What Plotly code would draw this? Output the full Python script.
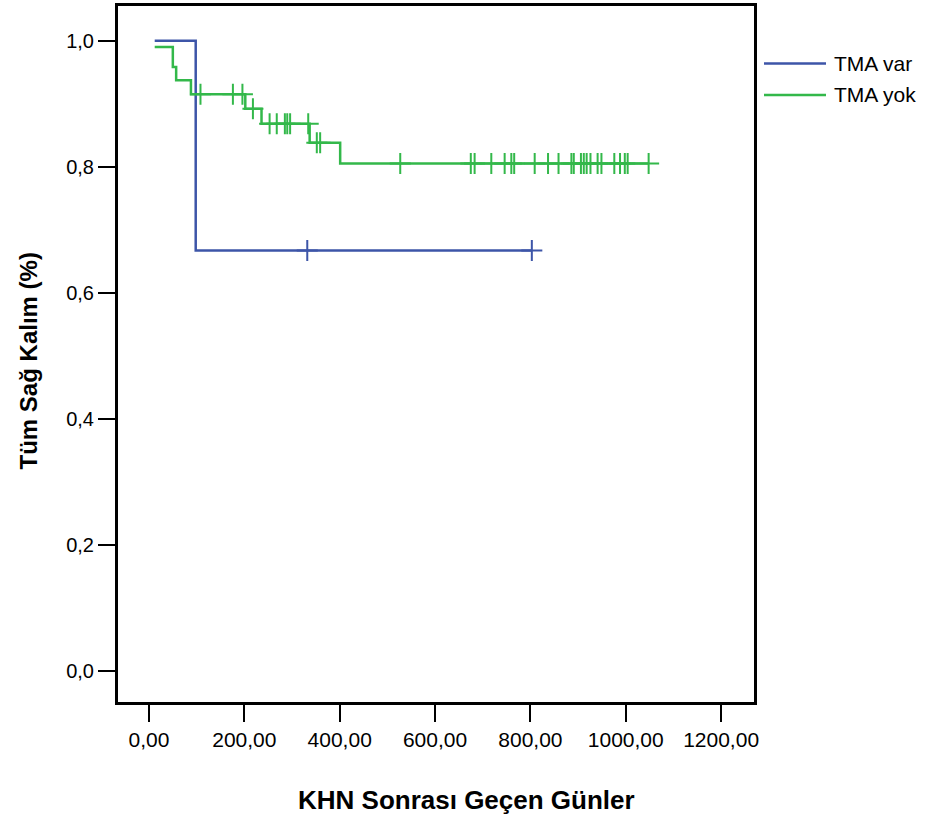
import plotly.graph_objects as go

# ---- data ----
var_name = "TMA var"
var_step_x = [12, 98, 803]
var_step_y = [1.0, 0.667, 0.667]
var_censor_x = [332, 803]

yok_name = "TMA yok"
yok_step_x = [12, 50, 57, 88, 202, 236, 337, 401, 1048]
yok_step_y = [0.990, 0.958, 0.937, 0.915, 0.892, 0.868, 0.838, 0.805, 0.805]
yok_censor_x = [108, 176, 196, 218, 253, 268, 285, 290, 296, 334, 352, 359,
                527, 675, 683, 718, 746, 760, 766, 809, 837, 859, 886, 891,
                906, 912, 918, 926, 941, 949, 976, 988, 998, 1004, 1048]

x_tick_vals = [0, 200, 400, 600, 800, 1000, 1200]
x_tick_labels = ["0,00", "200,00", "400,00", "600,00", "800,00", "1000,00", "1200,00"]
y_tick_vals = [0.0, 0.2, 0.4, 0.6, 0.8, 1.0]
y_tick_labels = ["0,0", "0,2", "0,4", "0,6", "0,8", "1,0"]

x_title = "KHN Sonrası Geçen Günler"
y_title = "Tüm Sağ Kalım (%)"

BLUE = "#3d55a8"
GREEN = "#33b84a"
FONT = "Liberation Sans, Arial, sans-serif"


def surv_at(t, xs, ys):
    val = ys[0]
    for xx, yy in zip(xs, ys):
        if xx <= t:
            val = yy
    return val


fig = go.Figure()
for name, sx, sy, cx, col in [
    (var_name, var_step_x, var_step_y, var_censor_x, BLUE),
    (yok_name, yok_step_x, yok_step_y, yok_censor_x, GREEN),
]:
    fig.add_trace(go.Scatter(x=sx, y=sy, mode="lines", line=dict(color=col, width=2.5, shape="hv"),
                             name=name, showlegend=False, hoverinfo="skip"))
    fig.add_trace(go.Scatter(x=cx, y=[surv_at(t, sx, sy) for t in cx], mode="markers",
                             marker=dict(symbol="cross-thin", size=15, line=dict(color=col, width=2)),
                             name=name + " (sansürlü)", showlegend=False))

# plot area in pixels: x 118..754, y 3..702
L, R, T, B = 118, 754, 3, 702
W, H = 926, 822
pw, ph = R - L, B - T


def px_x(p):
    return (p - L) / pw


def px_y(p):
    return (B - p) / ph


shapes = []
annotations = []
for name, col, ypix in [(var_name, BLUE, 60.7), (yok_name, GREEN, 92.3)]:
    shapes.append(dict(type="line", xref="paper", yref="paper", x0=px_x(764), x1=px_x(826),
                       y0=px_y(ypix), y1=px_y(ypix), line=dict(color=col, width=2.5)))
    annotations.append(dict(xref="paper", yref="paper", x=px_x(832), y=px_y(ypix), text=name,
                            showarrow=False, xanchor="left", yanchor="middle",
                            font=dict(family=FONT, size=21, color="black")))

annotations.append(dict(xref="paper", yref="paper", x=px_x(466), y=px_y(800), text="<b>" + x_title + "</b>",
                        showarrow=False, xanchor="center", yanchor="middle",
                        font=dict(family=FONT, size=26, color="black")))
annotations.append(dict(xref="paper", yref="paper", x=px_x(28), y=px_y(360), text="<b>" + y_title + "</b>",
                        showarrow=False, xanchor="center", yanchor="middle", textangle=-90,
                        font=dict(family=FONT, size=24, color="black")))

fig.update_layout(
    width=W, height=H,
    margin=dict(l=L, r=W - R, t=T, b=H - B, pad=0),
    paper_bgcolor="white", plot_bgcolor="white",
    font=dict(family=FONT, size=20, color="black"),
    shapes=shapes, annotations=annotations,
    showlegend=False,
)
fig.update_xaxes(range=[-65, 1269], tickvals=x_tick_vals, ticktext=x_tick_labels,
                 showgrid=False, zeroline=False, showline=True, mirror=True,
                 linecolor="black", linewidth=3, ticks="outside", ticklen=17, tickwidth=2,
                 tickcolor="black", tickfont=dict(family=FONT, size=21, color="black"))
fig.update_yaxes(range=[-0.05, 1.055], tickvals=y_tick_vals, ticktext=y_tick_labels,
                 showgrid=False, zeroline=False, showline=True, mirror=True,
                 linecolor="black", linewidth=3, ticks="outside", ticklen=17, tickwidth=2,
                 tickcolor="black", tickfont=dict(family=FONT, size=20, color="black"))

fig.write_html("out.html", config={"displayModeBar": False},
               post_script="document.body.style.margin='0';")
